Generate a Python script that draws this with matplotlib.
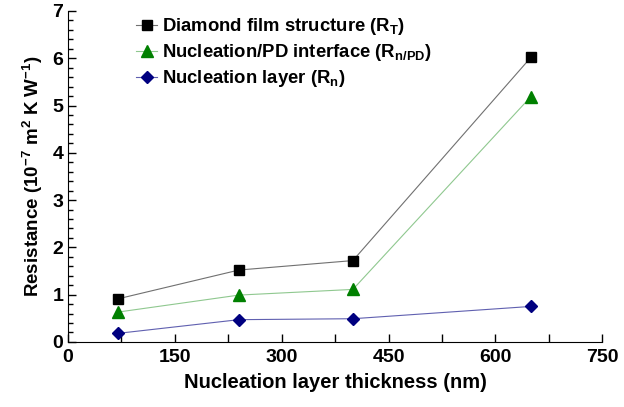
import numpy as np
import matplotlib
matplotlib.use("Agg")
import matplotlib.pyplot as plt
from matplotlib.ticker import MultipleLocator

plt.rcParams['font.family'] = ['Liberation Sans', 'DejaVu Sans']
plt.rcParams['font.weight'] = 'bold'
plt.rcParams['mathtext.default'] = 'regular'

# thickness of nucleation layer (nm)
espesor = [70, 240, 400, 650]
# resistances (1e-7 m2 K/W)
r_total = [0.91, 1.52, 1.72, 6.02]
r_interfaz = [0.63, 0.99, 1.11, 5.19]
r_nucleacion = [0.18, 0.47, 0.49, 0.75]

fig = plt.figure(figsize=(6.24, 4.07), dpi=100)
ax = fig.add_axes([0.109, 0.160, 0.856, 0.813])

ax.plot(espesor, r_total, color='#707070', lw=0.8, marker='s', ms=7.5,
        mfc='black', mec='black', label='Diamond film structure (R$_{T}$)')
ax.plot(espesor, r_interfaz, color='#8fc88f', lw=0.8, marker='^', ms=8.5,
        mfc='#008000', mec='#008000', label='Nucleation/PD interface (R$_{n/PD}$)')
ax.plot(espesor, r_nucleacion, color='#6060b0', lw=0.8, marker='D', ms=6.5,
        mfc='#000080', mec='#000080', label='Nucleation layer (R$_{n}$)')

ax.set_xlim(0, 750)
ax.set_ylim(0, 7)
ax.xaxis.set_major_locator(MultipleLocator(150))
ax.xaxis.set_minor_locator(MultipleLocator(75))
ax.yaxis.set_major_locator(MultipleLocator(1))
ax.yaxis.set_minor_locator(MultipleLocator(0.2))
ax.tick_params(which='both', direction='in', labelsize=14, width=1)
ax.tick_params(which='major', length=6)
ax.tick_params(axis='x', which='minor', length=6)
ax.tick_params(axis='y', which='minor', length=3.5)
ax.tick_params(axis='x', pad=5)

for lado in ['top', 'right']:
    ax.spines[lado].set_visible(False)

ax.set_xlabel('Nucleation layer thickness (nm)', fontsize=14.5, fontweight='bold', labelpad=5)
ax.set_ylabel('Resistance (10$^{-7}$ m$^{2}$ K W$^{-1}$)', fontsize=13.5, fontweight='bold', labelpad=5)

ax.legend(loc='upper left', bbox_to_anchor=(0.097, 1.035), frameon=False,
          handlelength=1.1, handletextpad=0.3, labelspacing=0.27,
          prop={'weight': 'bold', 'size': 13.3})

fig.savefig('out.png', dpi=100)
